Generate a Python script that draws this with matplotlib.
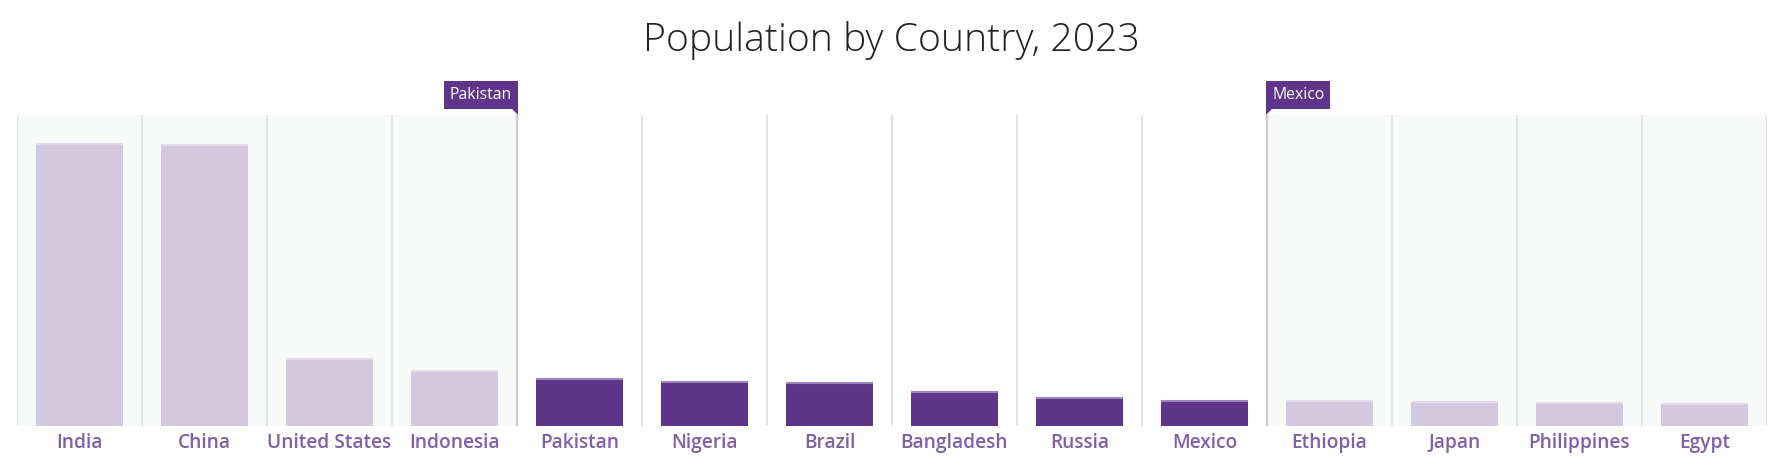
import matplotlib
matplotlib.use("Agg")
import matplotlib.pyplot as plt
from matplotlib.patches import Rectangle, Polygon
from matplotlib.transforms import IdentityTransform
import numpy as np

countries = ["India", "China", "United States", "Indonesia", "Pakistan", "Nigeria",
             "Brazil", "Bangladesh", "Russia", "Mexico", "Ethiopia", "Japan",
             "Philippines", "Egypt"]
population = [1428.6, 1425.7, 339.9, 277.5, 240.5, 223.8, 216.4, 173.0, 144.4,
              128.5, 126.5, 123.3, 117.3, 112.7]
sel_start = "Pakistan"
sel_end = "Mexico"
title = "Population by Country, 2023"

DARK = "#5F358A"
LIGHT = "#D3C9DF"
LABEL = "#7E60A9"
GRID = "#E4E4E4"
SHADE = "#F8F9F9"
SELLINE = "#D0C4DF"

W, H, DPI = 1782, 461, 100
fig = plt.figure(figsize=(W / DPI, H / DPI), dpi=DPI)
ax = fig.add_axes([17 / W, (461 - 426) / H, (1767 - 17) / W, (426 - 115) / H])

n = len(countries)
x = np.arange(n)
i0 = countries.index(sel_start)
i1 = countries.index(sel_end)
ax.set_xlim(-0.5, n - 0.5)
ax.set_ylim(0, 1576)

# shaded unselected regions
ax.axvspan(-0.5, i0 - 0.5, color=SHADE, zorder=0, lw=0)
ax.axvspan(i1 + 0.5, n - 0.5, color=SHADE, zorder=0, lw=0)

# category gridlines
for b in np.arange(-0.5, n, 1.0):
    if b in (i0 - 0.5, i1 + 0.5):
        continue
    ax.axvline(b, color=GRID, lw=1.5, zorder=1)

colors = [DARK if i0 <= i <= i1 else LIGHT for i in range(n)]
tops = ["#9C84BC" if i0 <= i <= i1 else "#E2DBEA" for i in range(n)]
ax.bar(x, population, width=0.70, color=colors, zorder=2, lw=0)
for xi, p, tc in zip(x, population, tops):
    ax.plot([xi - 0.35, xi + 0.35], [p, p], color=tc, lw=1.5, zorder=3,
            solid_capstyle="butt")

# selection lines
for b in (i0 - 0.5, i1 + 0.5):
    ax.axvline(b, color=SELLINE, lw=1.5, zorder=4)

for s in ax.spines.values():
    s.set_visible(False)
ax.set_yticks([])
ax.set_xticks(x)
ax.set_xticklabels(countries, fontsize=13.8, color=LABEL, family="Open Sans",
                   fontweight="semibold")
ax.tick_params(axis="x", length=0, pad=5)

fig.text(0.5, 1 - 41 / H, title, ha="center", va="center", fontsize=28.2,
         color="#222222", family="Open Sans", fontweight="light")

# selection badges
fig.canvas.draw()
renderer = fig.canvas.get_renderer()
ident = IdentityTransform()
box_bottom = H - 109  # display coords (origin bottom)
box_top = H - 81
for name, idx, side in ((sel_start, i0 - 0.5, "right"), (sel_end, i1 + 0.5, "left")):
    lx = ax.transData.transform((idx, 0))[0]
    t = fig.text(0, 0, name, fontsize=11.3, color="white", family="Open Sans",
                 transform=ident, ha=side, va="center", zorder=11)
    if side == "right":
        t.set_position((lx - 5, (box_bottom + box_top) / 2))
    else:
        t.set_position((lx + 5, (box_bottom + box_top) / 2))
    fig.canvas.draw()
    bb = t.get_window_extent(renderer)
    if side == "right":
        x0, x1 = bb.x0 - 6, lx + 1
        tri = [(x1 - 6, box_bottom), (x1, box_bottom), (x1, box_bottom - 6)]
    else:
        x0, x1 = lx - 1, bb.x1 + 6
        tri = [(x0, box_bottom), (x0 + 6, box_bottom), (x0, box_bottom - 6)]
    fig.patches.append(Rectangle((x0, box_bottom), x1 - x0, box_top - box_bottom,
                                 transform=ident, color=DARK, zorder=10, lw=0))
    fig.patches.append(Polygon(tri, closed=True, transform=ident, color=DARK,
                               zorder=10, lw=0))

fig.savefig("out.png", dpi=DPI)
